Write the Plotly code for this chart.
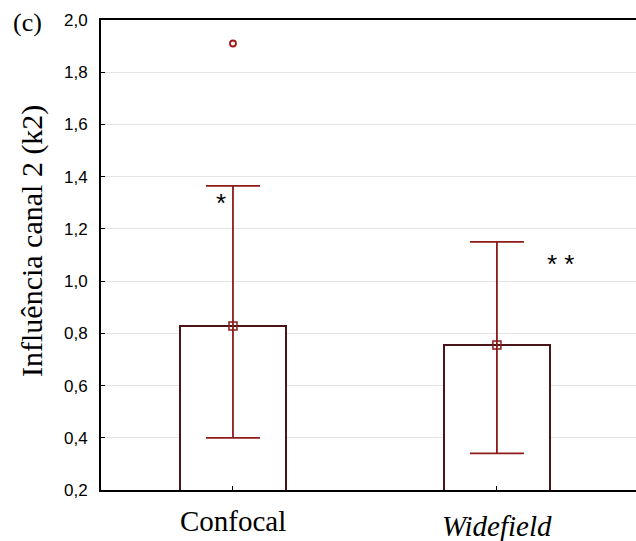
import plotly.graph_objects as go

categories = ["Confocal", "Widefield"]
tick_text = ["Confocal", "<i>Widefield</i>"]
medians = [0.828, 0.755]
means = [0.828, 0.755]
whisk_low = [0.40, 0.34]
whisk_high = [1.365, 1.15]
outlier_x = [0]
outlier_y = [1.91]
y_ticks = [0.2, 0.4, 0.6, 0.8, 1.0, 1.2, 1.4, 1.6, 1.8, 2.0]

xpos = list(range(len(categories)))
bar_col = "#4a1518"
err_col = "#8e1b1b"
serif = "Liberation Serif"

W, H = 636, 541
L, R, T, B = 101, 0, 20, 51
pw, ph = W - L - R, H - T - B


def px(xp):
    return (xp - L) / pw


def py(yp):
    return (H - B - yp) / ph


fig = go.Figure()
fig.add_trace(go.Bar(
    x=xpos, y=medians, width=0.4,
    marker=dict(color="white", line=dict(color=bar_col, width=2)),
    showlegend=False, hoverinfo="skip"))
fig.add_trace(go.Scatter(
    x=xpos, y=means, mode="markers",
    marker=dict(symbol="square-open", size=8, color=err_col, line=dict(width=1.5)),
    error_y=dict(type="data", symmetric=False,
                 array=[h - m for h, m in zip(whisk_high, means)],
                 arrayminus=[m - l for m, l in zip(means, whisk_low)],
                 color=err_col, thickness=1.8, width=27),
    showlegend=False))
fig.add_trace(go.Scatter(
    x=outlier_x, y=outlier_y, mode="markers",
    marker=dict(symbol="circle-open", size=6, color="#a01818", line=dict(width=1.8)),
    showlegend=False))

annotations = [
    dict(text="*", x=-0.045, y=1.30, xref="x", yref="y", showarrow=False,
         font=dict(family="Liberation Sans", size=26, color="black")),
    dict(text="* *", x=1.24, y=1.065, xref="x", yref="y", showarrow=False,
         font=dict(family="Liberation Sans", size=26, color="black")),
    dict(text="(c)", x=px(27), y=py(22), xref="paper", yref="paper", showarrow=False,
         xanchor="center", yanchor="middle",
         font=dict(family=serif, size=26, color="black")),
    dict(text="Influência canal 2 (k2)", x=px(32), y=py(241), xref="paper", yref="paper",
         showarrow=False, textangle=-90, xanchor="center", yanchor="middle",
         font=dict(family=serif, size=30, color="black")),
]
label_y = [521, 526]
for xi, t, ly in zip(xpos, tick_text, label_y):
    annotations.append(dict(text=t, x=xi, y=py(ly), xref="x", yref="paper",
                            showarrow=False, xanchor="center", yanchor="middle",
                            font=dict(family=serif, size=29, color="black")))

fig.update_layout(
    width=W, height=H,
    margin=dict(l=L, r=R, t=T, b=B),
    plot_bgcolor="white", paper_bgcolor="white",
    separators=",.",
    bargap=0,
    xaxis=dict(range=[-0.5, 1.527], tickvals=xpos, ticktext=["", ""],
               showline=True, linecolor="black", linewidth=2, mirror=True,
               ticks="inside", ticklen=4, tickcolor="black", showgrid=False),
    yaxis=dict(range=[0.2, 2.0], tickvals=y_ticks, tickformat=".1f",
               showline=True, linecolor="black", linewidth=2,
               ticks="inside", ticklen=4, tickcolor="black", ticklabelstandoff=8,
               showgrid=True, gridcolor="#e4e4e4", gridwidth=1, zeroline=False,
               tickfont=dict(family="Liberation Sans", size=17, color="black")),
    annotations=annotations,
)
fig.write_html("out.html")
